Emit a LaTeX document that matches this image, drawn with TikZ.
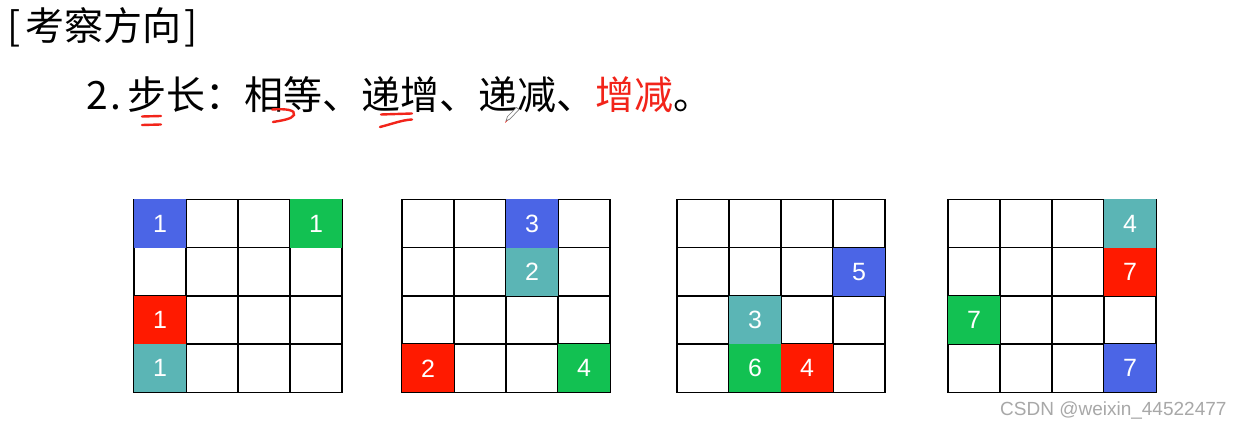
\documentclass[tikz,border=0pt]{standalone}
\usepackage{fontspec}
\setmainfont{Liberation Sans}
\newfontfamily\cjk{Noto Sans CJK SC}
\definecolor{cblue}{HTML}{4B65E6}
\definecolor{cgreen}{HTML}{12C152}
\definecolor{cred}{HTML}{FF1A00}
\definecolor{cteal}{HTML}{5BB5B5}
\definecolor{markred}{HTML}{F2241A}
\definecolor{wmgray}{HTML}{A8A8A8}
\newcommand{\mycell}[6]{%
  \node[cellbox, fill=#4] (#6) at ({#1+52*(#2-0.5)},{199.5+48.25*(#3-0.5)}) {#5};}
\begin{document}
\begin{tikzpicture}[x=1pt,y=-1pt,
  gridline/.style={line width=1.5pt, black, line cap=rect},
  cellbox/.style={minimum width=52pt, minimum height=48.25pt, inner sep=0pt, outer sep=0pt,
    text=white, font=\fontsize{25}{25}\selectfont},
  headtext/.style={anchor=west, inner sep=0pt, font=\cjk\fontsize{39}{39}\selectfont},
  redmark/.style={draw=markred, line width=2.4pt, line cap=round}]
\useasboundingbox (0,0) rectangle (1245,427);
\fill[white] (0,0) rectangle (1245,427);

% headings
\node[headtext] (title) at (7,27) {[\hspace{5pt}考察方向\hspace{3pt}]};
\node[headtext] (line2) at (86,95) {2\hspace{3pt}.\hspace{6pt}步长：相等、递增、递减、\textcolor{markred}{增减}。};

% red hand marks
\draw[redmark] (142,116.5) -- (161,116);
\draw[redmark] (142,125) -- (161,124.5);
\draw[redmark] (272,109.5) .. controls (286,108.5) and (296,110) .. (294,115)
  .. controls (292,119) and (282,120.5) .. (273,122);
\draw[redmark] (381,114.5) -- (412,113.5);
\draw[redmark] (380,127) .. controls (392,124) and (402,120) .. (412,119.5);
% pen cursor
\draw[gray, line width=0.7pt, fill=white] (519,109.5) -- (516.5,107.5) -- (507.5,116.5) -- (506,121) -- (510,119) -- cycle;
\fill[markred] (506,121) -- (505,123) -- (507.5,120.5) -- cycle;

% grids
\foreach \gx in {134,402,677,948}{
  \foreach \i in {0,...,4}{
    \draw[gridline] ({\gx+52*\i},199.5) -- ({\gx+52*\i},392.5);
    \draw[gridline] (\gx,{199.5+48.25*\i}) -- ({\gx+208},{199.5+48.25*\i});
  }
}

% grid 1
\mycell{134}{1}{1}{cblue}{1}{a11}
\mycell{134}{4}{1}{cgreen}{1}{a41}
\mycell{134}{1}{3}{cred}{1}{a13}
\mycell{134}{1}{4}{cteal}{1}{a14}
% grid 2
\mycell{402}{3}{1}{cblue}{3}{b31}
\mycell{402}{3}{2}{cteal}{2}{b32}
\mycell{402}{1}{4}{cred}{2}{b14}
\mycell{402}{4}{4}{cgreen}{4}{b44}
% grid 3
\mycell{677}{4}{2}{cblue}{5}{c42}
\mycell{677}{2}{3}{cteal}{3}{c23}
\mycell{677}{2}{4}{cgreen}{6}{c24}
\mycell{677}{3}{4}{cred}{4}{c34}
% grid 4
\mycell{948}{4}{1}{cteal}{4}{d41}
\mycell{948}{4}{2}{cred}{7}{d42}
\mycell{948}{1}{3}{cgreen}{7}{d13}
\mycell{948}{4}{4}{cblue}{7}{d44}

% watermark
\node[anchor=base west, inner sep=0pt, text=wmgray, font=\fontsize{19}{19}\selectfont] (wm) at (1000,416) {CSDN @weixin\_44522477};
\end{tikzpicture}
\end{document}
